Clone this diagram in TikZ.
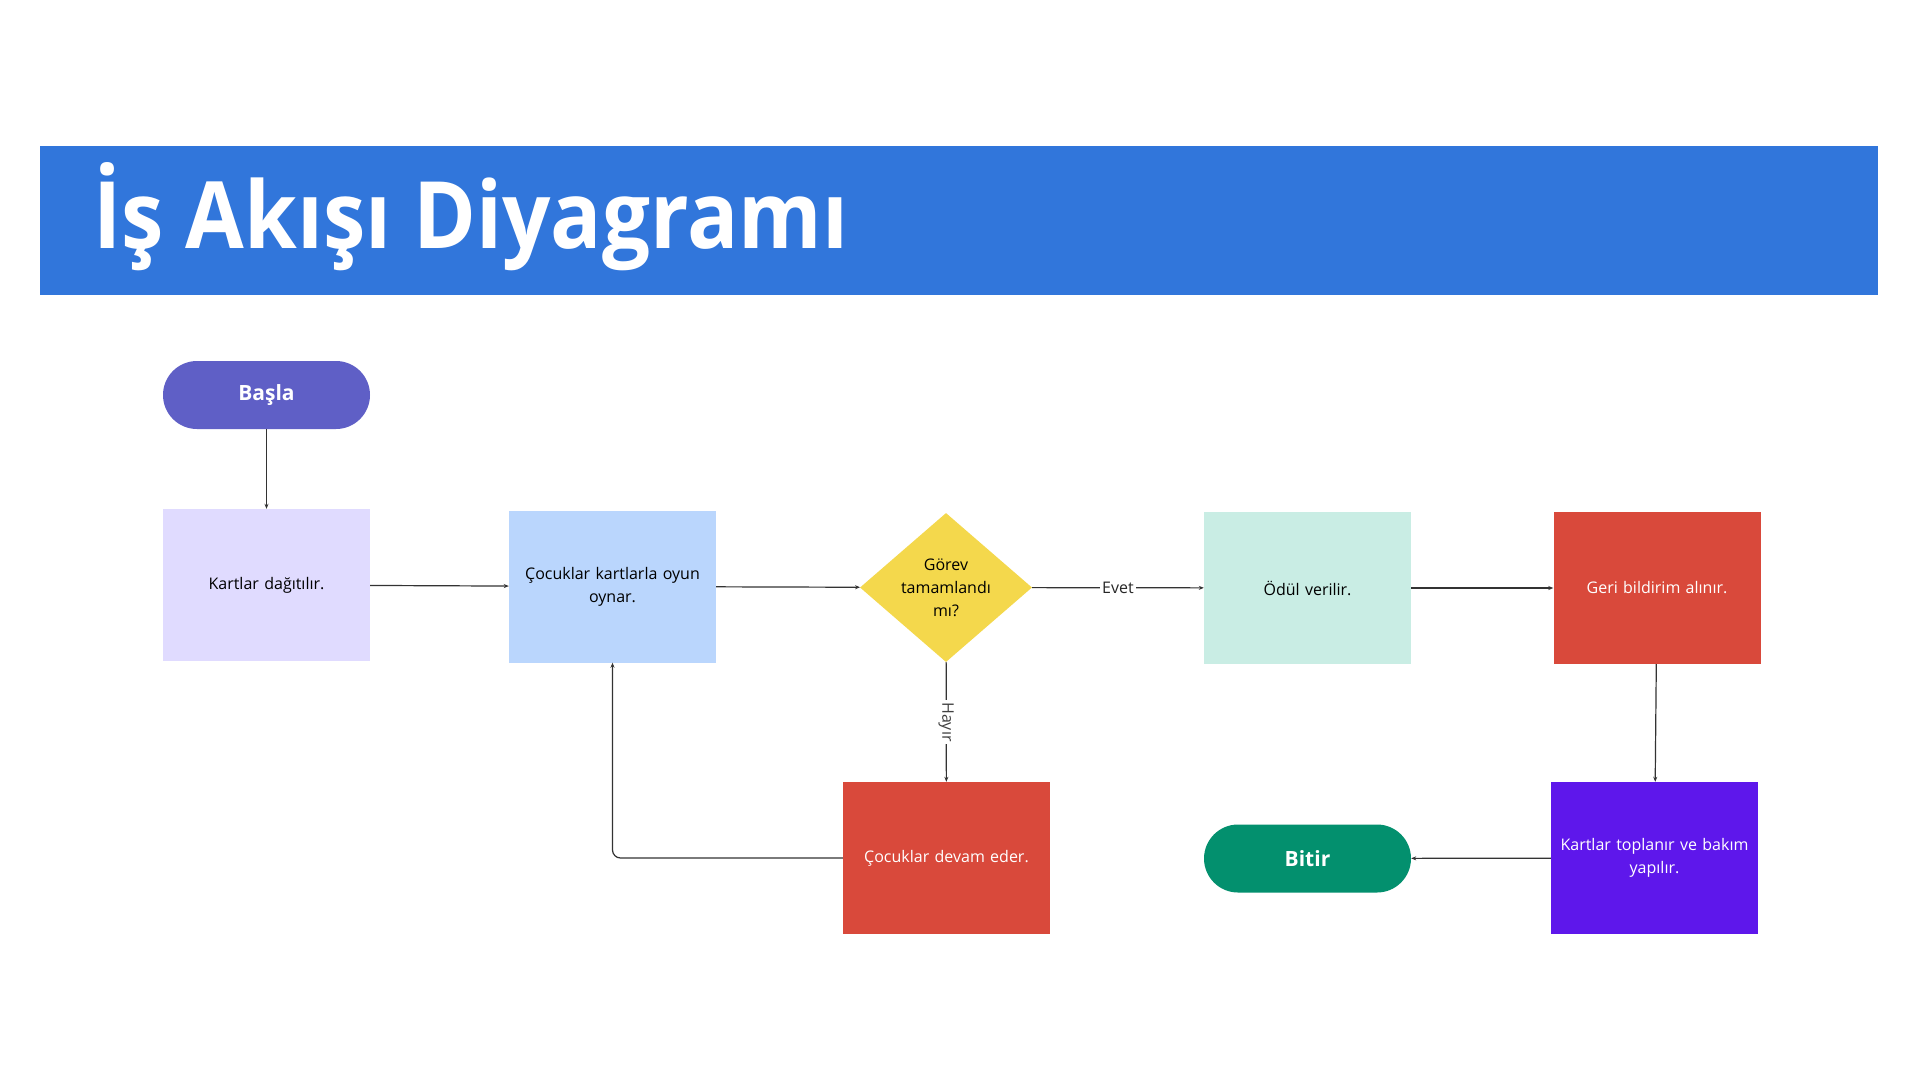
\documentclass[tikz,border=0pt]{standalone}
\usepackage{fontspec}
\setmainfont{Open Sans}
\newfontfamily\titlefont{Open Sans}
\usetikzlibrary{shapes.geometric,arrows.meta}
\definecolor{titlebar}{HTML}{3176DB}
\definecolor{startc}{HTML}{5F5FC6}
\definecolor{lav}{HTML}{E0DBFF}
\definecolor{lblue}{HTML}{BAD6FD}
\definecolor{yel}{HTML}{F4D84C}
\definecolor{mint}{HTML}{C9EDE4}
\definecolor{redc}{HTML}{D9493B}
\definecolor{purp}{HTML}{5E17EB}
\definecolor{greenc}{HTML}{03906E}
\definecolor{linec}{HTML}{333333}
\begin{document}
\begin{tikzpicture}[x=1pt,y=-1pt,
  box/.style={rectangle, minimum width=207, minimum height=152, inner sep=0pt, align=center, text width=195, font=\fontsize{16}{23}\selectfont},
  pill/.style={rectangle, rounded corners=34, minimum width=207, minimum height=68, inner sep=0pt, text=white, font=\bfseries\fontsize{21}{24}\selectfont},
  conn/.style={draw=linec, line width=1.2pt, -{Stealth[length=5pt,width=4pt]}},
  elabel/.style={fill=white, inner sep=2pt, font=\fontsize{16}{18}\selectfont}
]
\useasboundingbox (0,0) rectangle (1920,1080);
\fill[white] (0,0) rectangle (1920,1080);
\fill[titlebar] (40,146) rectangle (1878,295);
\node[anchor=base west, inner sep=0pt, text=white, font=\titlefont\bfseries\fontsize{93}{93}\selectfont] (title) at (93,248) {\scalebox{0.915}[1]{İş Akışı Diyagramı}};

\node[pill, fill=startc] (basla) at (266.5,395) {\raisebox{-1.5pt}{Başla}};
\node[box, fill=lav] (kart) at (266.5,585) {Kartlar dağıtılır.};
\node[box, fill=lblue] (oyun) at (612.5,586.5) {Çocuklar kartlarla oyun\\oynar.};
\node[diamond, aspect=1.154, minimum width=172, minimum height=149, inner sep=0pt, fill=yel, align=center, font=\fontsize{16}{23}\selectfont] (gorev) at (946,587.5) {Görev\\tamamlandı\\mı?};
\node[box, fill=mint] (odul) at (1307.5,588) {Ödül verilir.};
\node[box, fill=redc, text=white] (geri) at (1657,588) {Geri bildirim alınır.};
\node[box, fill=redc, text=white] (devam) at (946.5,858) {Çocuklar devam eder.};
\node[box, fill=purp, text=white] (topla) at (1654.5,858) {Kartlar toplanır ve bakım\\yapılır.};
\node[pill, fill=greenc] (bitir) at (1307.5,858.5) {Bitir};

\draw[conn] (basla) -- (kart);
\draw[conn] (kart) -- (oyun);
\draw[conn] (oyun) -- (gorev);
\draw[conn] (gorev) -- node[elabel, text=black!85] {Evet} (odul);
\draw[conn] (gorev) -- node[elabel, rotate=-90, text=black!75] {Hayır} (devam);
\draw[conn] (odul) -- (geri);
\draw[conn] (geri) -- (topla);
\draw[conn] (topla) -- (bitir);
\draw[conn, rounded corners=8pt] (devam.west) -| (oyun.south);
\end{tikzpicture}
\end{document}
